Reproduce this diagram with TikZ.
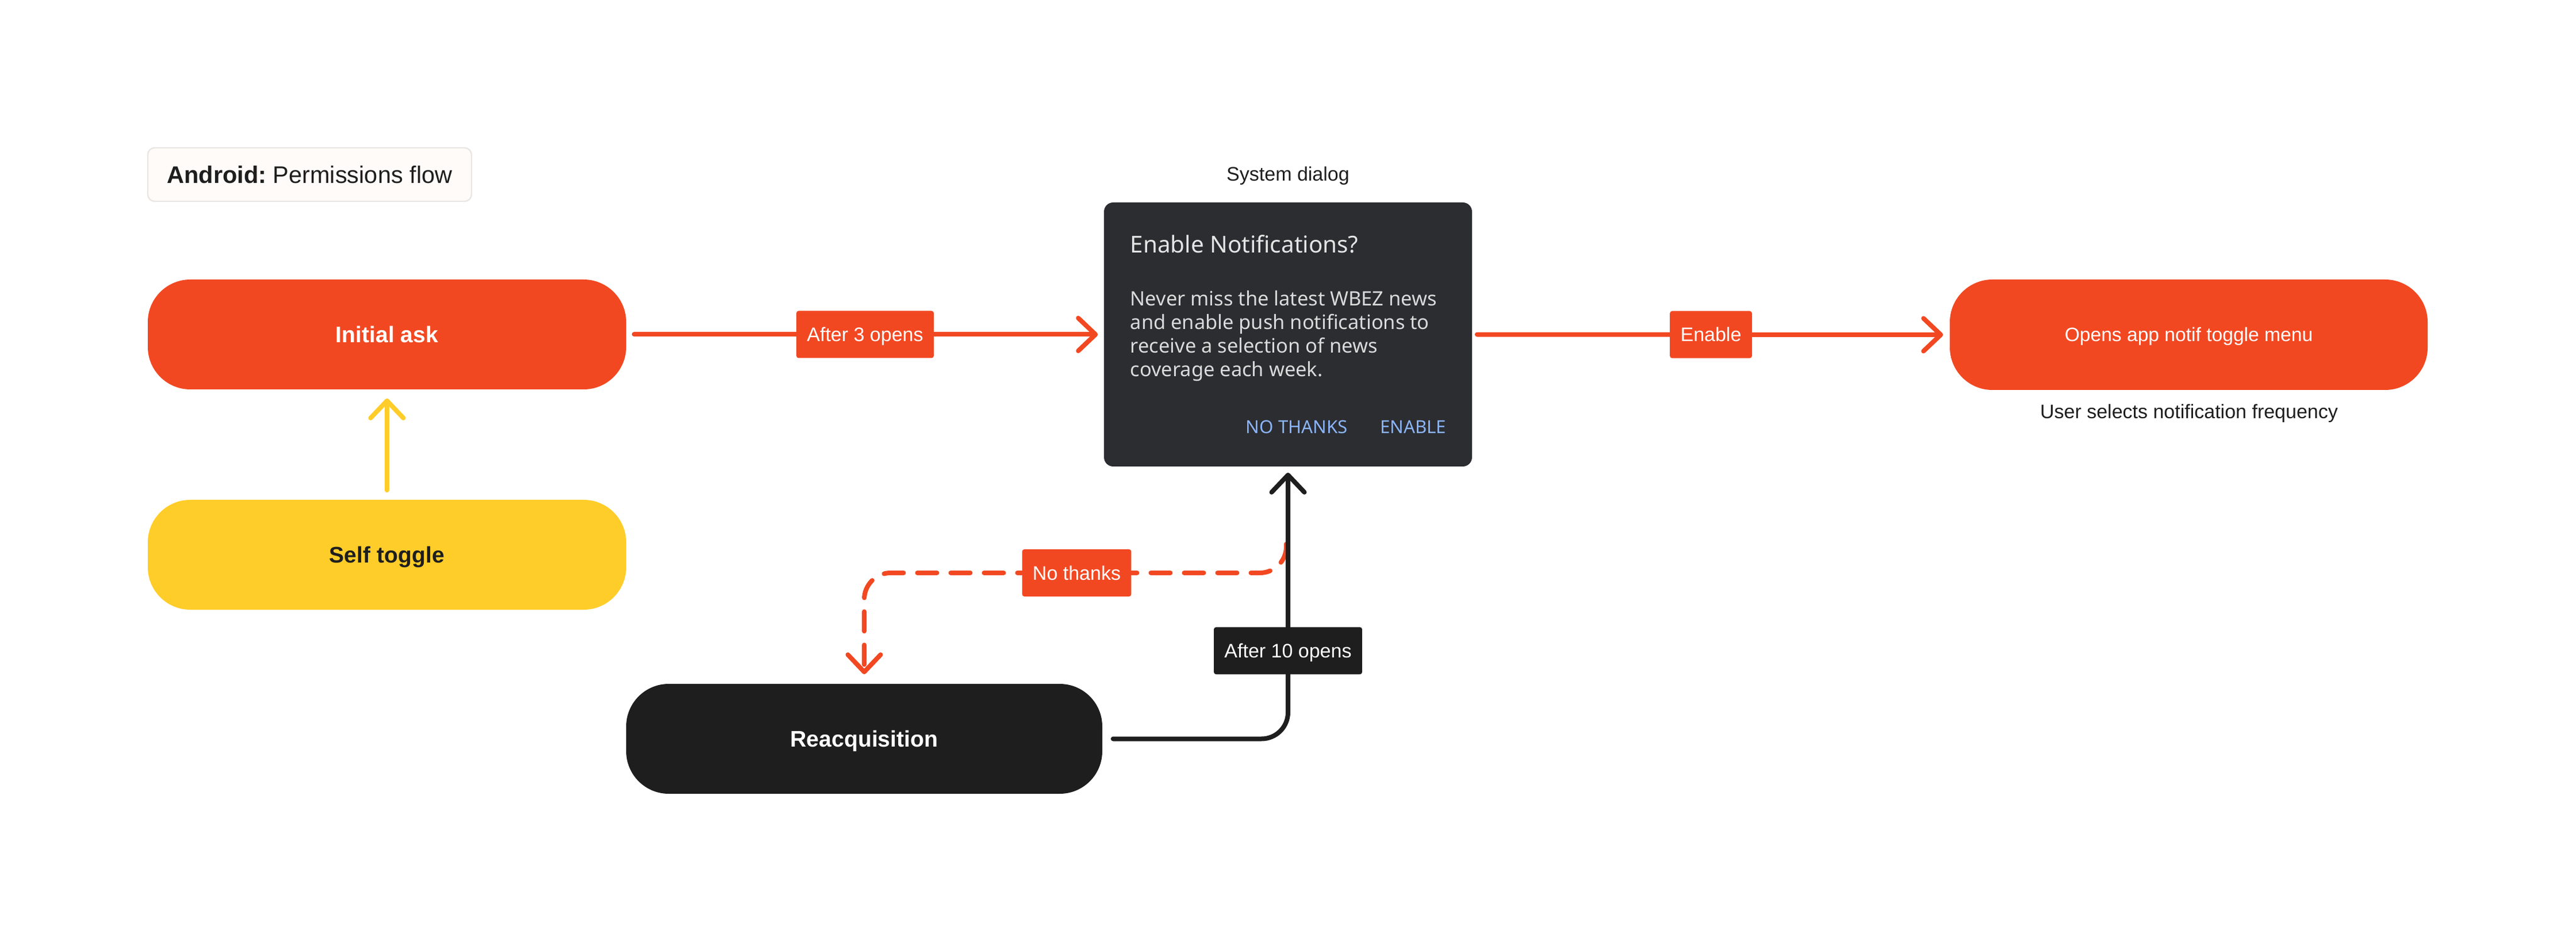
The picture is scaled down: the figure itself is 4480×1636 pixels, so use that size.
\documentclass[tikz,border=0pt]{standalone}
\usepackage{fontspec}
\setmainfont{Liberation Sans}
\newfontfamily\dlgfont{Noto Sans}
\usetikzlibrary{arrows.meta}
\definecolor{orng}{HTML}{F24822}
\definecolor{yel}{HTML}{FFCD29}
\definecolor{dark}{HTML}{1E1E1E}
\definecolor{dlgbg}{HTML}{2C2D31}
\definecolor{dlgtitle}{HTML}{E4E4E4}
\definecolor{dlgbody}{HTML}{DADADA}
\definecolor{btn}{HTML}{8AB4F8}
\definecolor{titlebg}{HTML}{FFFBF8}
\definecolor{titleborder}{HTML}{EAE6E3}
\tikzset{
  pill/.style={rounded corners=18.5pt, minimum width=208pt, minimum height=47.75pt,
    inner sep=0pt, text height=7.05pt, text depth=0pt,
    font=\fontsize{9.8}{12}\selectfont\bfseries},
  lbl/.style={fill=orng, text=white, rounded corners=1pt, inner xsep=4.6pt, inner ysep=0pt,
    minimum height=20.5pt, text height=6.1pt, text depth=0pt,
    font=\fontsize{8.5}{10}\selectfont},
  conn/.style={line width=2pt, line cap=round, line join=round,
    -{Straight Barb[length=7.5pt,width=14.25pt,round]}},
  smalltext/.style={inner sep=0pt, text=dark, font=\fontsize{8.5}{10}\selectfont},
  dlgline/.style={anchor=base west, inner sep=0pt, text=dlgbody,
    font=\dlgfont\fontsize{8.6}{10}\selectfont},
  dlgbtn/.style={inner sep=0pt, text=btn, font=\dlgfont\fontsize{7.8}{9}\selectfont}
}
\begin{document}
\begin{tikzpicture}[x=0.25pt,y=-0.25pt]
\fill[white] (0,0) rectangle (4480,1636);
\useasboundingbox (0,0) rectangle (4480,1636);

% title
\node[fill=titlebg, draw=titleborder, line width=0.6pt, rounded corners=3pt,
  minimum width=140.75pt, minimum height=23.25pt, inner sep=0pt,
  text height=7.45pt, text depth=0pt, text=dark,
  font=\fontsize{10.4}{12}\selectfont] (title) at (538.5,303.5)
  {\textbf{Android:}\hspace{0.26em}Permissions flow};

% main nodes
\node[pill, fill=orng, text=white] (init) at (673,581.5) {Initial ask};
\node[pill, fill=yel, text=dark] (self) at (673,964.5) {Self toggle};
\node[pill, fill=dark, text=white, minimum width=207pt] (reacq) at (1503,1284.5) {Reacquisition};
\node[pill, fill=orng, text=white, minimum width=207.75pt, minimum height=48pt,
  text height=6.0pt, font=\fontsize{8.4}{10}\selectfont] (opens) at (3806.5,582)
  {Opens app notif toggle menu};

% system dialog
\node[smalltext, anchor=base] (sdlabel) at (2240,315) {System dialog};
\node[fill=dlgbg, rounded corners=4pt, minimum width=160pt, minimum height=114.75pt,
  inner sep=0pt] (dlg) at (2240,581.5) {};
\node[anchor=base west, inner sep=0pt, text=dlgtitle,
  font=\dlgfont\fontsize{10.1}{12}\selectfont] (dtitle) at (1965,440) {Enable Notifications?};
\node[dlgline] (b1) at (1965,532) {Never miss the latest WBEZ news};
\node[dlgline] (b2) at (1965,573) {and enable push notifications to};
\node[dlgline] (b3) at (1965,614) {receive a selection of news};
\node[dlgline] (b4) at (1965,655) {coverage each week.};
\node[dlgbtn, anchor=base west] (bno) at (2166,754) {NO THANKS};
\node[dlgbtn, anchor=base east] (byes) at (2516,754) {ENABLE};

\node[smalltext, anchor=base] (usf) at (3807,728) {User selects notification frequency};

% connectors
\draw[conn, yel, shorten <=4pt, shorten >=3.75pt] (self.north) -- (init.south);
\draw[conn, orng, shorten <=3.25pt, shorten >=2.5pt] (init.east) -- node[lbl] (l3) {After 3 opens} (dlg.west);
\draw[conn, orng, shorten <=2pt, shorten >=2.75pt] (dlg.east) -- node[lbl] (len) {Enable} (opens.west);

\coordinate (ntc) at (1872.5,996);
\draw[conn, orng, dash pattern=on 8.5pt off 6pt, rounded corners=11.5pt,
  shorten <=33.5pt, shorten >=4pt]
  ([xshift=-0.75pt]dlg.south) |- (ntc) -| (reacq.north);
\node[lbl] (nt) at (ntc) {No thanks};

\draw[conn, dark, rounded corners=11.5pt, shorten <=4.5pt, shorten >=2.5pt]
  (reacq.east) -| node[lbl, fill=dark, pos=0.662] (l10) {After 10 opens} (dlg.south);
\end{tikzpicture}
\end{document}
